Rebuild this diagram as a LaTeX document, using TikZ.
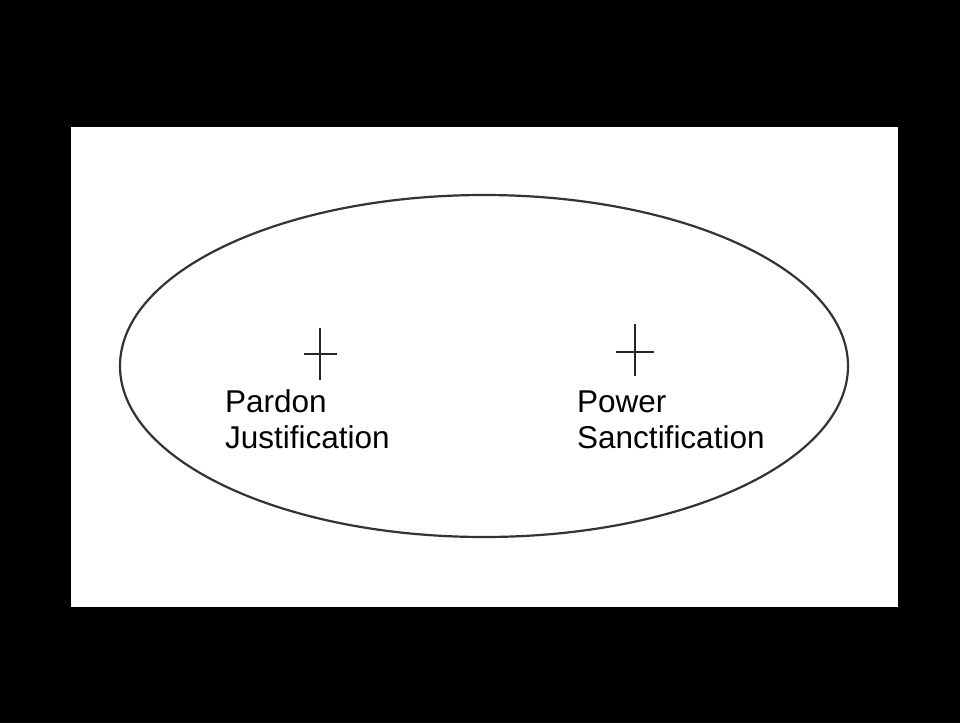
\documentclass[tikz,border=0pt]{standalone}
\usepackage{fontspec}
\setmainfont{Liberation Sans}
\begin{document}
\begin{tikzpicture}[x=1pt,y=-1pt,
  outline/.style={draw=black!80,line width=2.2pt},
  crossmark/.style={draw=black!85,line width=2.2pt},
  lbl/.style={anchor=base west,inner sep=0pt,align=left,font=\fontsize{31.5}{36}\selectfont}]
\fill[black] (0,0) rectangle (960,723);
\fill[white] (71,127) rectangle (898,607);
\useasboundingbox (0,0) rectangle (960,723);
\draw[outline] (484,366) ellipse [x radius=364, y radius=171];
\coordinate (c1) at (320,354);
\coordinate (c2) at (635,352);
\draw[crossmark] ([xshift=-16pt]c1) -- ([xshift=17pt]c1) ([yshift=-26pt]c1) -- ([yshift=26pt]c1);
\draw[crossmark] ([xshift=-19pt]c2) -- ([xshift=19pt]c2) ([yshift=-24pt]c2) -- ([yshift=28pt]c2);
\node[lbl] (pardon) at (225,448) {Pardon\\Justification};
\node[lbl] (power) at (577,448) {Power\\Sanctification};
\end{tikzpicture}
\end{document}
